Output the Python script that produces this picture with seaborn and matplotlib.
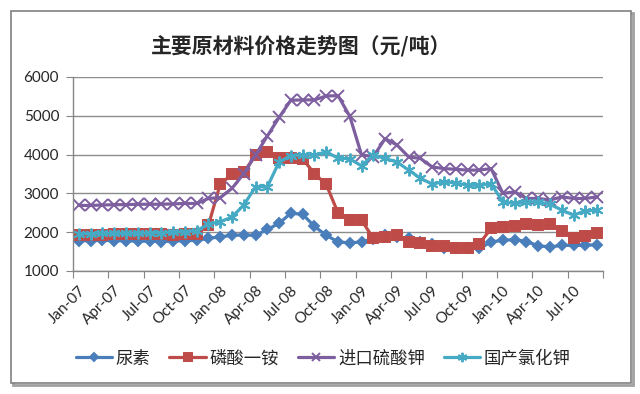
import pandas as pd
import numpy as np
import matplotlib
matplotlib.use("Agg")
import matplotlib.pyplot as plt
from matplotlib.patches import Rectangle
import seaborn as sns

# monthly prices, Jan-07 .. Sep-10 (yuan/ton)
months = pd.date_range("2007-01-01", periods=45, freq="MS")
urea = [1780, 1780, 1790, 1780, 1780, 1770, 1770, 1760, 1770, 1780, 1790,
        1840, 1880, 1920, 1930, 1920, 2070, 2230, 2490, 2460, 2150, 1920,
        1750, 1725, 1750, 1830, 1940, 1880, 1840, 1750, 1700, 1590, 1580,
        1600, 1580, 1750, 1790, 1810, 1760, 1650, 1620, 1660, 1660, 1660, 1680]
map_ = [1930, 1940, 1940, 1950, 1950, 1960, 1960, 1950, 1940, 1950, 1960,
        2180, 3240, 3490, 3540, 3990, 4070, 3900, 3900, 3890, 3510, 3230,
        2500, 2310, 2310, 1840, 1880, 1920, 1760, 1720, 1640, 1650, 1580,
        1600, 1700, 2100, 2140, 2160, 2200, 2180, 2200, 2030, 1840, 1900, 1980]
sop_import = [2690, 2690, 2700, 2710, 2710, 2720, 2720, 2720, 2730, 2740, 2740,
              2870, 2890, 3130, 3510, 3990, 4480, 4960, 5400, 5410, 5410, 5510,
              5520, 4990, 3990, 3950, 4410, 4250, 3940, 3900, 3680, 3640, 3620,
              3600, 3600, 3640, 3000, 3040, 2870, 2870, 2830, 2910, 2870, 2870, 2910]
kcl_domestic = [1960, 1960, 1970, 1970, 1970, 1970, 1980, 1990, 2000, 2010, 2040,
                2210, 2270, 2390, 2700, 3170, 3170, 3810, 3970, 3990, 3990, 4070,
                3910, 3890, 3710, 3990, 3900, 3810, 3600, 3390, 3240, 3300, 3270,
                3210, 3210, 3250, 2780, 2740, 2780, 2780, 2720, 2570, 2440, 2550, 2570]

names = ["尿素", "磷酸一铵", "进口硫酸钾", "国产氯化钾"]
tick_labels = ["Jan-07", "Apr-07", "Jul-07", "Oct-07", "Jan-08", "Apr-08", "Jul-08",
               "Oct-08", "Jan-09", "Apr-09", "Jul-09", "Oct-09", "Jan-10", "Apr-10", "Jul-10"]

df = pd.DataFrame({"idx": np.arange(len(months)), names[0]: urea, names[1]: map_,
                   names[2]: sop_import, names[3]: kcl_domestic})

sns.set_style("white")
plt.rcParams["font.family"] = ["Lato", "Noto Sans CJK SC", "DejaVu Sans"]

fig = plt.figure(figsize=(6.4, 3.94), dpi=100)
ax = fig.add_axes([73 / 640, 1 - 271 / 394, 530 / 640, 194 / 394])
ax.set_zorder(2)

colors = ["#4a7ebb", "#be4b48", "#7d5fa0", "#46aac5"]
markers = ["D", "s", "x", (6, 2, 0)]
msizes = [5.5, 7, 8, 8.5]
for name, c, m, ms in zip(names, colors, markers, msizes):
    sns.lineplot(data=df, x="idx", y=name, ax=ax, color=c, marker=m, markersize=ms,
                 markeredgecolor=c, markeredgewidth=1.4, linewidth=2.3, label=name)

ax.set_xlim(-0.5, len(months) - 0.5)
ax.set_ylim(1000, 6000)
ax.set_yticks(range(1000, 6001, 1000))
ax.yaxis.grid(True, color="#8c8c8c", linewidth=1)
ax.set_xlabel("")
ax.set_ylabel("")

ax.set_xticks(np.arange(-0.5, len(months), 3))
ax.set_xticklabels([])
ax.set_xticks(np.arange(0, len(months), 3), minor=True)
ax.set_xticklabels(tick_labels, minor=True, rotation=45, ha="right",
                   rotation_mode="anchor", fontsize=11)
ax.tick_params(axis="x", which="major", length=5, color="#868686", direction="out", bottom=True)
ax.tick_params(axis="x", which="minor", length=0, pad=9)
ax.tick_params(axis="y", length=5, color="#868686", direction="out", left=True,
               labelsize=11, pad=5)

for s in ["top", "right"]:
    ax.spines[s].set_visible(False)
for s in ["left", "bottom"]:
    ax.spines[s].set_color("#868686")
    ax.spines[s].set_linewidth(1)

ax.get_legend().remove()
handles, labels = ax.get_legend_handles_labels()
fig.legend(handles, labels, loc="center", bbox_to_anchor=(0.505, 0.091), ncol=4,
           frameon=False, fontsize=12.5, handlelength=2.1, columnspacing=1.1,
           handletextpad=0.2, markerscale=0.8)

fig.text(0.47, 1 - 47 / 394, "主要原材料价格走势图（元/吨）", ha="center", va="center",
         fontsize=15, fontweight="bold", family=["Noto Sans CJK SC", "DejaVu Sans"])

# outer chart frame with a light shadow
fig.patches.append(Rectangle((13 / 640, 1 - 385 / 394), 620 / 640, 372 / 394,
                             transform=fig.transFigure, fill=False,
                             edgecolor="#a0a0a0", linewidth=2, zorder=-2))
fig.patches.append(Rectangle((11 / 640, 1 - 383 / 394), 620 / 640, 372 / 394,
                             transform=fig.transFigure, facecolor="white",
                             edgecolor="#808080", linewidth=1.2, zorder=-1))

fig.savefig("out.png", dpi=100)
